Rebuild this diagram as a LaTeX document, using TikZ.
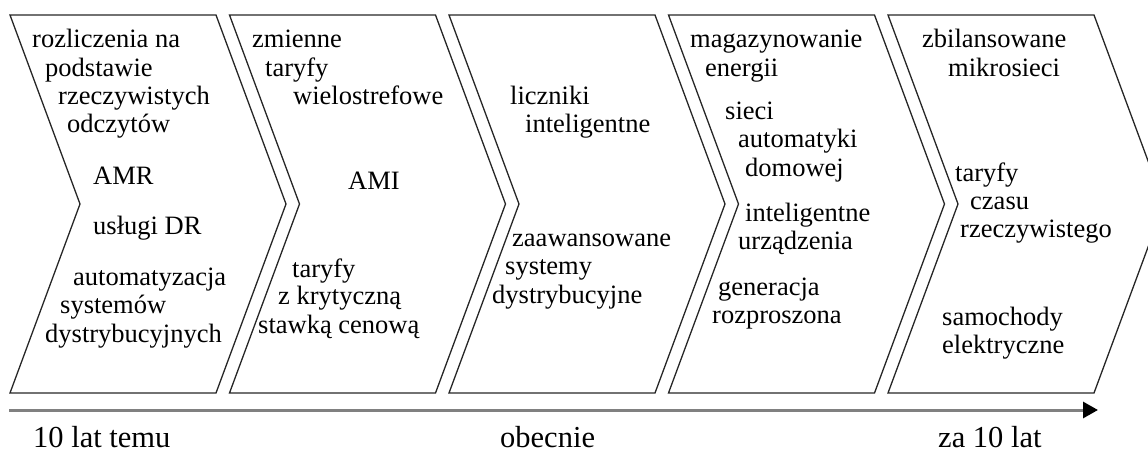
\documentclass[tikz,border=0pt]{standalone}
\usepackage{fontspec}
\setmainfont{Liberation Serif}
\usetikzlibrary{arrows.meta}
\tikzset{
  chev/.style={draw=black!85, line width=1.3pt, line join=miter},
  txt/.style={anchor=base west, inner sep=0pt, font=\fontsize{26.5}{28}\selectfont},
  lbl/.style={anchor=base west, inner sep=0pt, font=\fontsize{30.5}{33}\selectfont},
  timeline/.style={draw=black!50, line width=3pt, -{Triangle[length=15pt,width=16pt,color=black]}}
}
\begin{document}
\begin{tikzpicture}[x=1pt,y=-1pt]
\useasboundingbox (0,0) rectangle (1148,454);
\begin{scope}
\clip (0,0) rectangle (1148,454);
\foreach \i in {0,...,4}{
  \pgfmathsetmacro{\xo}{10+219.5*\i}
  \draw[chev] (\xo,15) -- ({\xo+206},15) -- ({\xo+276},204) -- ({\xo+206},393)
     -- (\xo,393) -- ({\xo+70},204) -- cycle;
}
\end{scope}
% chevron texts
\foreach \x/\y/\t [count=\n] in {
  32/48/rozliczenia na, 45/77/podstawie, 58/105/rzeczywistych, 67/133/odczytów,
  93/185/AMR, 93/235/usługi DR, 73/285/automatyzacja, 60/313/systemów, 45/342/dystrybucyjnych,
  252/48/zmienne, 265/77/taryfy, 293/105/wielostrefowe, 348/190/AMI,
  292/277/taryfy, 278/305/z krytyczną, 258/333/stawką cenową,
  510/105/liczniki, 525/133/inteligentne, 512/247/zaawansowane, 505/275/systemy, 492/303/dystrybucyjne,
  690/48/magazynowanie, 705/77/energii, 725/120/sieci, 738/148/automatyki, 745/177/domowej,
  745/222/inteligentne, 738/250/urządzenia, 718/295/generacja, 712/323/rozproszona,
  922/48/zbilansowane, 948/77/mikrosieci, 955/182/taryfy, 970/210/czasu, 960/238/rzeczywistego,
  942/325/samochody, 942/353/elektryczne}
  \node[txt] (t\n) at (\x,\y) {\t};
% timeline
\coordinate (a0) at (9,410);
\coordinate (a1) at (1098,410);
\draw[timeline] (a0) -- (a1);
\node[lbl] (past) at (33,447) {10 lat temu};
\node[lbl] (now) at (500,447) {obecnie};
\node[lbl] (future) at (938,447) {za 10 lat};
\end{tikzpicture}
\end{document}
